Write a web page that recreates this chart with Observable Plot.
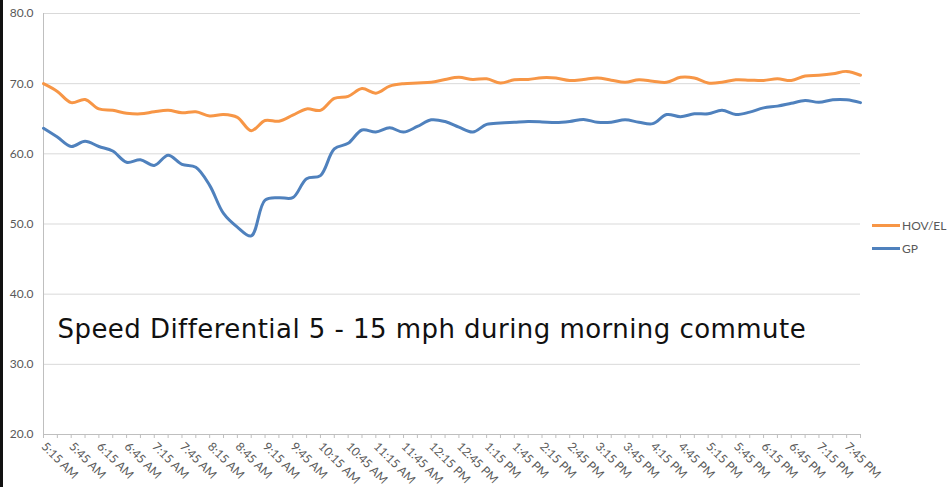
<!DOCTYPE html>
<html>
<head>
<meta charset="utf-8">
<script src="https://cdn.jsdelivr.net/npm/d3@7"></script>
<script src="https://cdn.jsdelivr.net/npm/@observablehq/plot@0.6"></script>
<style>
  html, body { margin: 0; padding: 0; background: #fff; }
  #wrap { position: relative; width: 948px; height: 487px; overflow: hidden; }
  #bar { position: absolute; left: 0; top: 0; width: 3px; height: 487px; background: #111; }
  #legend { position: absolute; left: 872px; top: 214px; font-family: "Lato", "DejaVu Sans", sans-serif; font-size: 12px; color: #595959; }
  .item { display: flex; align-items: center; height: 23px; }
  .sw { width: 28px; height: 3px; margin-right: 2px; }
</style>
</head>
<body>
<div id="wrap"><div id="bar"></div><div id="legend"></div></div>
<script>
const times = [
  "5:15 AM","5:30 AM","5:45 AM","6:00 AM","6:15 AM","6:30 AM","6:45 AM","7:00 AM","7:15 AM","7:30 AM",
  "7:45 AM","8:00 AM","8:15 AM","8:30 AM","8:45 AM","9:00 AM","9:15 AM","9:30 AM","9:45 AM","10:00 AM",
  "10:15 AM","10:30 AM","10:45 AM","11:00 AM","11:15 AM","11:30 AM","11:45 AM","12:00 PM","12:15 PM","12:30 PM",
  "12:45 PM","1:00 PM","1:15 PM","1:30 PM","1:45 PM","2:00 PM","2:15 PM","2:30 PM","2:45 PM","3:00 PM",
  "3:15 PM","3:30 PM","3:45 PM","4:00 PM","4:15 PM","4:30 PM","4:45 PM","5:00 PM","5:15 PM","5:30 PM",
  "5:45 PM","6:00 PM","6:15 PM","6:30 PM","6:45 PM","7:00 PM","7:15 PM","7:30 PM","7:45 PM","8:00 PM"
];
const hovEl = [
  70.0, 68.9, 67.3, 67.75, 66.4, 66.2, 65.8, 65.7, 66.0, 66.2,
  65.85, 66.0, 65.4, 65.6, 65.2, 63.3, 64.75, 64.65, 65.5, 66.4,
  66.2, 67.9, 68.2, 69.3, 68.65, 69.65, 70.0, 70.1, 70.2, 70.6,
  70.9, 70.6, 70.7, 70.1, 70.55, 70.6, 70.85, 70.8, 70.45, 70.6,
  70.8, 70.5, 70.2, 70.55, 70.35, 70.2, 70.9, 70.8, 70.1, 70.2,
  70.55, 70.5, 70.45, 70.7, 70.45, 71.1, 71.2, 71.4, 71.75, 71.2
];
const gp = [
  63.65, 62.4, 61.05, 61.8, 61.05, 60.4, 58.8, 59.15, 58.35, 59.8,
  58.5, 58.1, 55.5, 51.5, 49.55, 48.3, 53.4, 53.75, 53.75, 56.45,
  56.9, 60.7, 61.5, 63.4, 63.1, 63.7, 63.1, 63.9, 64.85, 64.6,
  63.8, 63.1, 64.2, 64.4, 64.5, 64.6, 64.55, 64.45, 64.6, 64.9,
  64.5, 64.5, 64.85, 64.5, 64.3, 65.6, 65.3, 65.7, 65.7, 66.2,
  65.6, 65.95, 66.55, 66.8, 67.2, 67.6, 67.35, 67.7, 67.7, 67.3
];
const seriesNames = ["HOV/EL", "GP"];
const seriesColors = ["#F79646", "#4F81BD"];
const yTicks = [20, 30, 40, 50, 60, 70, 80];
const annotation = ["Speed Differential 5 - 15 mph during morning commute"];

const rows = [];
times.forEach((t, i) => {
  rows.push({time: t, series: seriesNames[0], value: hovEl[i]});
  rows.push({time: t, series: seriesNames[1], value: gp[i]});
});
const labelSet = new Set(times.filter((t, i) => i % 2 === 0));

const chart = Plot.plot({
  width: 948,
  height: 487,
  marginTop: 13,
  marginBottom: 53,
  marginLeft: 43,
  marginRight: 88,
  style: {fontFamily: "Lato, 'DejaVu Sans', sans-serif", fontSize: "12px", color: "#595959", background: "transparent"},
  x: {type: "point", domain: times, padding: 0, label: null},
  y: {domain: [20, 80], label: null},
  color: {domain: seriesNames, range: seriesColors},
  marks: [
    Plot.gridY(yTicks, {stroke: "#d9d9d9", strokeOpacity: 1, strokeWidth: 1}),
    Plot.ruleX([times[0]], {stroke: "#bfbfbf", strokeWidth: 1}),
    Plot.ruleY([20], {stroke: "#bfbfbf", strokeWidth: 1}),
    Plot.axisY(yTicks, {tickSize: 0, tickPadding: 10, tickFormat: d => d.toFixed(1), fill: "#595959", fontSize: 12, label: null}),
    Plot.axisX(times, {tickSize: 4, stroke: "#bfbfbf", tickFormat: d => labelSet.has(d) ? d : "", tickRotate: 45, tickPadding: 6, fill: "#595959", fontSize: 12, label: null}),
    Plot.line(rows, {x: "time", y: "value", z: "series", stroke: "series", strokeWidth: 3, curve: "catmull-rom"}),
    Plot.text(annotation, {frameAnchor: "bottom-left", dx: 14, dy: -97, text: d => d, fontSize: 26, fill: "#111", textAnchor: "start", fontFamily: "'DejaVu Sans', sans-serif", style: "letter-spacing:0.45px"})
  ]
});
const wrap = document.getElementById("wrap");
wrap.insertBefore(chart, wrap.firstChild);
chart.querySelectorAll("text").forEach(t => { if (t.textContent === annotation[0]) t.style.letterSpacing = "0.45px"; });

const legend = document.getElementById("legend");
seriesNames.forEach((n, i) => {
  const it = document.createElement("div");
  it.className = "item";
  const sw = document.createElement("span");
  sw.className = "sw";
  sw.style.background = seriesColors[i];
  const lb = document.createElement("span");
  lb.textContent = n;
  it.appendChild(sw); it.appendChild(lb);
  legend.appendChild(it);
});
</script>
</body>
</html>
